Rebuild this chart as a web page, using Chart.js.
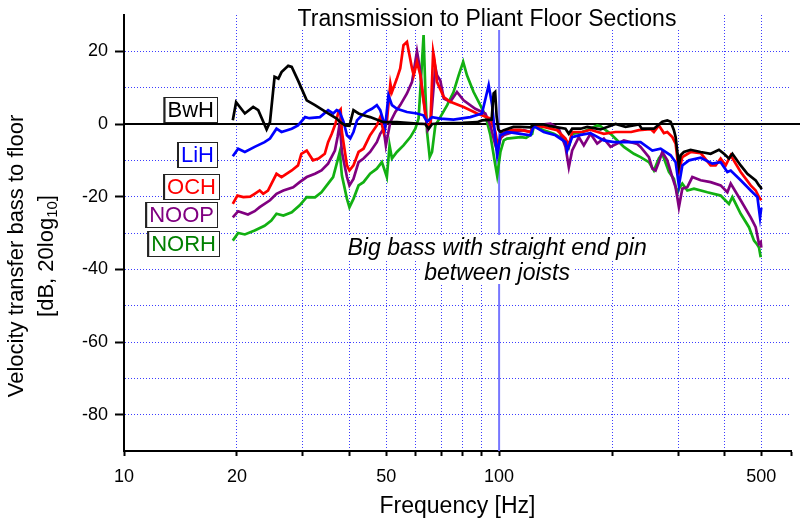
<!DOCTYPE html>
<html>
<head>
<meta charset="utf-8">
<title>Transmission to Pliant Floor Sections</title>
<script src="https://cdn.jsdelivr.net/npm/chart.js@4.4.1/dist/chart.umd.min.js"></script>
<style>
  body { margin: 0; background: #fff; }
  #chart { display: block; }
</style>
</head>
<body>
<canvas id="chart" width="800" height="521"></canvas>
<script>
// tick values / labels
const xTicks = [10, 20, 30, 40, 50, 60, 70, 80, 90, 100, 200, 300, 400, 500, 600];
const xLabelled = [10, 20, 50, 100, 500];
const yLabelled = [20, 0, -20, -40, -60, -80];

// series: [frequency Hz, dB]
const bwh = [[19.5,1],[19.9,6],[21.0,2.9],[22.1,4.7],[22.8,3.8],[24.0,-1.5],[24.5,0.5],[25.2,13],[25.8,12.5],[26.3,14.3],
  [27.4,16],[28.0,15.7],[29.1,12],[30.7,6.5],[32.3,5.2],[35.0,2.9],[36.9,1.5],[37.7,0.5],[38.9,-0.4],[39.9,-0.5],
  [40.9,3.8],[42.2,2.9],[43.5,2.4],[45.3,1.9],[49.2,0.5],[53.4,0.5],[60.4,0.1],[63.5,0],[64.9,-1.3],[66.3,0],
  [70,0.2],[80,0.3],[87.4,0.5],[90.1,1],[95.5,1.2],[96.7,8.4],[97.6,8.8],[98.5,2],[99.5,-1.5],[100.8,-2.2],
  [102.9,-1.7],[109.2,-0.8],[114,-0.8],[121.2,-0.9],[123.7,-0.1],[131.5,-0.1],[137.1,-0.6],[150.3,-1.3],[153.4,-2.7],[156.6,-1.3],
  [165,-1.3],[171.7,-0.8],[186.4,-1.5],[204.4,0],[217.3,-0.8],[235.9,-0.1],[240,-1.3],[258.6,-1.3],[272.3,0.6],[280.8,1],
  [286.6,0.6],[292.4,-1.7],[295.5,-3.6],[301.5,-11.4],[304.7,-8.6],[310.9,-7.7],[324,-7.1],[344.6,-7.7],[366.4,-8.2],[385.5,-7.1],
  [397.6,-8.2],[410,-9.5],[418.7,-8.2],[440.6,-11.4],[459.1,-13.7],[483.1,-15.5],[493,-16.9],[498.2,-17.4],[500.3,-18]];

const lih = [[19.5,-8.9],[20.15,-6.8],[21.0,-7.7],[22.3,-6.3],[23.7,-5],[24.5,-4],[25.5,-1.3],[26.3,-2.2],[28.0,-1.3],[29.1,-0.4],
  [30.4,1.9],[31.2,1.6],[33.3,1.9],[35.0,3.8],[36.1,2.9],[36.9,3.8],[37.5,3.5],[38.5,0.6],[39.3,-3.1],[40.1,-4],
  [40.9,-2.2],[41.8,1],[43.1,2.4],[44.4,3.5],[45.8,4.2],[47.2,5.2],[48.2,3.8],[49.7,-0.8],[50.7,7.9],[51.8,5.2],
  [53.4,4.2],[56.8,3.3],[60.4,2.9],[62.8,2.4],[64.25,0.6],[66.25,1.9],[69.7,1.5],[75.6,1.2],[83.8,1.9],[90,2.9],
  [93.8,10.7],[95.8,5.2],[97.75,-4],[98.8,-8.6],[100.8,-3.1],[105,-2.2],[114,-2.7],[121.2,-3.1],[123.7,-0.6],[131.5,-2.2],
  [141.3,-3.1],[150.3,-5],[151.9,-7.3],[156.6,-3.6],[165,-3],[175.2,-2.5],[190.2,-4.5],[202.3,-5],[233.5,-5],[238.3,-5],
  [256.1,-7.3],[269.5,-6.8],[286.6,-8.6],[295.5,-10.5],[301.5,-16.9],[307.9,-11.4],[320.7,-10],[344.6,-9.3],[370.3,-10.9],[389.6,-10.5],
  [406,-13.2],[414.4,-12.8],[440.6,-15.5],[468.5,-18.3],[488.2,-20.1],[496.1,-25.7],[500,-23]];

const och = [[19.5,-22],[20.06,-19.7],[20.8,-20.1],[21.7,-20],[22.3,-19.2],[23.0,-18.3],[23.5,-19.2],[24.2,-18.3],[25.5,-13.7],[26.3,-14.6],
  [28.0,-12.8],[29.1,-11.4],[29.7,-8.2],[30.7,-7.3],[31.9,-10],[33.0,-9.5],[34.3,-8.2],[35.0,-5],[35.8,-2.7],[36.6,0],
  [37.3,3.3],[37.8,4],[38.1,-2.2],[39.3,-11.4],[39.9,-12.8],[40.9,-11.4],[42.2,-7.7],[43.5,-6.8],[45.3,-3.1],[47.2,-0.4],
  [48.2,1.9],[49.2,-2.2],[50.2,0.6],[51.3,11.1],[51.8,8.8],[53.4,12.5],[54.5,15.3],[55.6,21.7],[56.8,22.6],[58.6,15.3],
  [59.2,13.4],[60.4,17.1],[61.7,13.4],[63.6,2.4],[64.25,-0.4],[65.6,0],[66.7,19.9],[67.2,18],[68.3,11.6],[71.2,7.4],
  [74.1,6.1],[80.4,4.7],[87.4,2.9],[94.8,1.5],[97.75,-2.2],[99.1,-5.9],[101.9,-2.7],[105,-2],[109.2,-1.6],[114,-1.6],
  [121.2,-2.2],[123.7,-0.4],[131.5,-0.8],[142.8,-1.7],[150.3,-4],[153.4,-5.9],[156.6,-2.2],[166.6,-2.2],[175.2,-1.6],[190.2,-2.7],
  [204.4,-2.2],[225,-2.2],[235.9,-1.7],[253.4,-1.4],[258.6,-2.2],[266.6,-0.4],[275,-2.5],[280.8,-2.2],[289.6,-3.6],[295.5,-5.4],
  [301.5,-13.2],[307.9,-9.1],[324,-7.7],[344.6,-8],[366.4,-11.4],[377.8,-11.4],[389.6,-9.5],[401.8,-11.4],[414.4,-8.6],[440.6,-13.2],
  [468.5,-16.9],[483.1,-18.3],[493,-20.1],[500,-21]];

const noop = [[19.5,-25.7],[20.15,-24],[21.4,-24.9],[22.3,-24],[23.0,-22.9],[24.5,-21],[25.5,-19.2],[26.6,-18.3],[28.25,-17.4],[29.4,-16],
  [30.7,-14.6],[32.3,-13.7],[33.6,-12.8],[35.0,-10.9],[36.5,-7.3],[37.1,-3.6],[37.6,0.3],[38.1,-7.7],[39.3,-14.6],[39.9,-16.9],
  [40.9,-15.1],[42.2,-10.5],[43.5,-9.5],[45.3,-7.7],[47.2,-5],[48.2,-2.7],[49.2,-1.3],[49.9,-5.9],[51.3,0.6],[52.9,3.3],
  [54.5,5.2],[56.8,8.4],[58.6,11.6],[60.4,20],[61.4,15.7],[62.3,9.8],[63.6,3.3],[64.5,-1.7],[65.6,-0.4],[67.6,15.7],
  [68.3,13.4],[69.7,12],[71.2,7],[74.1,6.1],[77.2,8.8],[80.4,6.5],[86.4,4.2],[91.9,2.9],[94.8,-0.4],[97.75,-5.9],
  [99.1,-7.7],[100.8,-3.9],[103,-3],[109.2,-2.2],[116.3,-1.7],[121.2,-2.2],[123.7,-0.4],[137.1,0.1],[144.2,-1.3],[150.3,-6.3],
  [153.4,-11.9],[156.6,-7.3],[163.1,-3.6],[168.2,-5.9],[175.2,-2.7],[182.6,-5.4],[190.2,-4],[198.2,-6.3],[215.1,-4.5],[233.5,-5.5],
  [238.3,-6.3],[250.8,-9.1],[256.1,-12.3],[261.3,-12.8],[266.6,-10.5],[272.3,-7.7],[280.8,-10],[289.6,-14.6],[295.5,-17.4],[301.5,-22.9],
  [307.9,-17.8],[317.5,-17.4],[327.4,-14.6],[344.6,-15.5],[366.4,-16],[389.6,-16.9],[406,-18.8],[414.4,-16.4],[440.6,-21],[468.5,-25.7],
  [483.1,-28.4],[493,-33],[498.2,-32.5],[500,-34]];

const norh = [[19.5,-32.1],[20.15,-30],[21.0,-30.4],[22.3,-29.3],[23.7,-28],[24.7,-26.6],[25.5,-24.7],[26.6,-25.2],[28.0,-24.3],[29.4,-22.4],
  [30.7,-20.1],[32.3,-20.2],[33.6,-18.8],[35.0,-16.4],[36.1,-14.6],[37.1,-10],[37.6,-7.7],[38.1,-14.2],[39.3,-20.6],[39.9,-22.9],
  [40.9,-20.6],[42.2,-16.9],[43.5,-16],[45.3,-13.7],[47.2,-12.3],[48.7,-10.5],[49.7,-13.2],[50.2,-14.6],[51.05,-5.9],[51.8,-9.5],
  [53.4,-7.7],[55.6,-5.9],[58,-3.6],[59.8,-1.3],[61.0,1.5],[62.0,13.4],[62.9,24.5],[63.6,8.8],[64.25,-2.2],[65.3,-9.1],
  [66.25,-7.7],[67.6,-0.4],[69.7,1.9],[72.7,5.2],[75.6,8.8],[78,13.4],[80.2,17.1],[82.1,13.4],[85.5,8.8],[89.1,5.2],
  [91.9,2.4],[94.8,-3.1],[97.75,-11.4],[98.8,-14.2],[100.8,-7.7],[102.9,-4.5],[105,-4],[114,-3.6],[118,-3.8],[122.5,-2.7],
  [123.7,-0.6],[131.5,-1.7],[139.9,-2.7],[150.3,-4.5],[153.4,-6.3],[156.6,-2.7],[166.6,-2.2],[175.2,-1.3],[182.6,-0.4],[186.4,-0.6],
  [198.2,-2.7],[215.1,-6.3],[228.7,-8.2],[238.3,-9.1],[250.8,-10.5],[258.6,-12.8],[266.6,-9.5],[272.3,-8.2],[283.6,-13.2],[292.4,-15.1],
  [298.5,-19.2],[301.5,-17.8],[307.9,-16.4],[317.5,-18.3],[330.7,-17.8],[359.1,-18.8],[389.6,-19.7],[410,-22],[418.7,-20.1],[440.6,-24.7],
  [463.6,-28.4],[478.1,-32.1],[486.1,-33],[493,-34],[498.2,-36.7]];

const seriesNames = ["BwH", "LiH", "OCH", "NOOP", "NORH"];
const seriesData = [bwh, lih, och, noop, norh];
const lineColors = ["#000000", "#0000ff", "#ff0000", "#800080", "#12b012"];
const labelColors = ["#000000", "#0000ff", "#ff0000", "#800080", "#008000"];

const FONT = "'Liberation Sans', Arial, sans-serif";
const GRID = "#3c3cff";

function line(ctx, x1, y1, x2, y2) {
    ctx.beginPath();
    ctx.moveTo(x1, y1);
    ctx.lineTo(x2, y2);
    ctx.stroke();
}

// text with a white box behind it
function boxedText(ctx, text, cx, baseline, font, h) {
    ctx.font = font;
    let w = ctx.measureText(text).width;
    ctx.fillStyle = "#fff";
    ctx.fillRect(cx - w / 2 - 3, baseline - h + 4, w + 6, h);
    ctx.fillStyle = "#000";
    ctx.textAlign = "center";
    ctx.textBaseline = "alphabetic";
    ctx.fillText(text, cx, baseline);
}

const decor = {
    id: "decor",
    beforeDatasetsDraw(chart) {
        const { ctx, chartArea: a, scales } = chart;
        ctx.save();
        // 100 Hz marker
        let x100 = scales.x.getPixelForValue(100);
        ctx.strokeStyle = "#7777ff";
        ctx.lineWidth = 2;
        line(ctx, x100, a.top, x100, a.bottom);
        // zero line
        let y0 = scales.y.getPixelForValue(0);
        ctx.strokeStyle = "#000";
        ctx.lineWidth = 2;
        line(ctx, a.left, y0, chart.width, y0);
        ctx.restore();
    },
    afterDatasetsDraw(chart) {
        const { ctx, scales } = chart;
        ctx.save();
        let x100 = scales.x.getPixelForValue(100);

        // title
        boxedText(ctx, "Transmission to Pliant Floor Sections", 487, 26, "23px " + FONT, 27);

        // annotation
        let it = "italic 23px " + FONT;
        boxedText(ctx, "Big bass with straight end pin", x100 - 2, 255, it, 24);
        boxedText(ctx, "between joists", x100 - 2, 280, it, 25);

        // series label boxes on the left
        let boxes = [[218, 110], [218, 155], [220, 187], [218, 215], [220, 244]];
        ctx.font = "22px " + FONT;
        ctx.textBaseline = "middle";
        ctx.textAlign = "left";
        seriesNames.forEach((name, i) => {
            let [right, cy] = boxes[i];
            let w = ctx.measureText(name).width + 8;
            let left = right - w;
            ctx.fillStyle = "#fff";
            ctx.fillRect(left, cy - 13, w, 26);
            ctx.strokeStyle = "#222";
            ctx.lineWidth = 1;
            ctx.strokeRect(left + 0.5, cy - 12.5, w - 1, 25);
            ctx.lineWidth = 2;
            line(ctx, left + 1, cy - 13, left + 1, cy + 13);
            ctx.fillStyle = labelColors[i];
            ctx.fillText(name, left + 4, cy + 1);
        });
        ctx.restore();
    },
    afterDraw(chart) {
        const { ctx, chartArea: a } = chart;
        ctx.save();
        ctx.fillStyle = "#000";
        ctx.font = "23px " + FONT;
        ctx.textAlign = "center";
        ctx.textBaseline = "alphabetic";
        ctx.fillText("Frequency [Hz]", (a.left + a.right) / 2, 513);

        // rotated y title, second line has a subscript
        ctx.translate(0, 256);
        ctx.rotate(-Math.PI / 2);
        ctx.textBaseline = "middle";
        ctx.font = "22px " + FONT;
        ctx.fillText("Velocity transfer bass to floor", 0, 17);
        let p1 = "[dB, 20log", sub = "10", p2 = "]";
        let w1 = ctx.measureText(p1).width, w3 = ctx.measureText(p2).width;
        ctx.font = "15px " + FONT;
        let w2 = ctx.measureText(sub).width;
        let start = -(w1 + w2 + w3) / 2;
        ctx.textAlign = "left";
        ctx.font = "22px " + FONT;
        ctx.fillText(p1, start, 47);
        ctx.font = "15px " + FONT;
        ctx.fillText(sub, start + w1, 53);
        ctx.font = "22px " + FONT;
        ctx.fillText(p2, start + w1 + w2, 47);
        ctx.restore();
    }
};

const datasets = seriesNames.map((name, i) => ({
    label: name,
    data: seriesData[i].map(([f, v]) => ({ x: f, y: v })),
    borderColor: lineColors[i],
    borderWidth: 2.7,
    pointRadius: 0,
    tension: 0,
    fill: false
}));

new Chart(document.getElementById("chart"), {
    type: "line",
    data: { datasets: datasets },
    options: {
        responsive: false,
        animation: false,
        layout: { padding: { top: 15, right: 9, left: 0, bottom: 0 } },
        plugins: { legend: { display: false }, tooltip: { enabled: false } },
        scales: {
            x: {
                type: "logarithmic",
                min: 10,
                max: 600,
                afterBuildTicks: scale => { scale.ticks = xTicks.map(v => ({ value: v })); },
                afterFit: scale => { scale.height = 70; scale.paddingLeft = 0; scale.paddingRight = 0; },
                ticks: {
                    autoSkip: false,
                    maxRotation: 0,
                    padding: 10,
                    color: "#000",
                    font: { family: FONT, size: 18 },
                    callback: v => xLabelled.includes(v) ? String(v) : ""
                },
                grid: {
                    color: ctx => (ctx.tick && [10, 100, 600].includes(ctx.tick.value)) ? "rgba(0,0,0,0)" : GRID,
                    lineWidth: 1,
                    tickColor: "#000",
                    tickLength: 5,
                    tickWidth: 2
                },
                border: { display: true, color: "#000", width: 2, dash: [1, 2] }
            },
            y: {
                min: -90,
                max: 30,
                afterFit: scale => { scale.width = 124; scale.paddingTop = 0; scale.paddingBottom = 0; },
                ticks: {
                    stepSize: 10,
                    padding: 7,
                    color: "#000",
                    font: { family: FONT, size: 18 },
                    callback: v => yLabelled.includes(v) ? String(v) : ""
                },
                grid: {
                    color: ctx => (ctx.tick && [30, 0, -90].includes(ctx.tick.value)) ? "rgba(0,0,0,0)" : GRID,
                    lineWidth: 1,
                    tickColor: ctx => (ctx.tick && yLabelled.includes(ctx.tick.value)) ? "#000" : "rgba(0,0,0,0)",
                    tickLength: 9,
                    tickWidth: 2
                },
                border: { display: true, color: "#000", width: 2, dash: [1, 2] }
            }
        }
    },
    plugins: [decor]
});
</script>
</body>
</html>
